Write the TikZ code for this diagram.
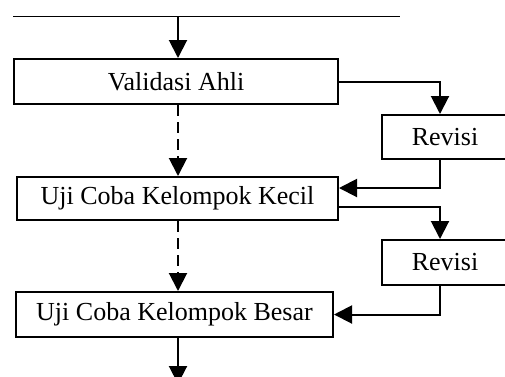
\documentclass[tikz,border=0pt]{standalone}
\usepackage{fontspec}
\setmainfont{Liberation Serif}
\usetikzlibrary{arrows.meta,calc}
\begin{document}
\begin{tikzpicture}[x=1pt,y=-1pt,
  stepbox/.style={draw,line width=2pt,inner sep=0pt,
    font=\fontsize{26}{30}\selectfont},
  flow/.style={line width=2pt,-{Triangle[length=18pt,width=18pt]}},
  weak/.style={flow,dash pattern=on 11pt off 6pt}]
\useasboundingbox (0,0) rectangle (505,376);

% top rule and entry point
\coordinate (topL) at (13,16);
\coordinate (topR) at (400,16);
\coordinate (topM) at (178,16);
\draw[line width=1pt] (topL) -- (topR);

% main stages
\node[stepbox,minimum width=324pt,minimum height=45pt] (va) at (176,81.5) {Validasi Ahli};
\node[stepbox,minimum width=321pt,minimum height=43pt] (kk) at (177.5,198.5) {Uji Coba Kelompok Kecil};
\node[stepbox,minimum width=317pt,minimum height=45pt] (kb) at (174.5,314.5) {Uji Coba Kelompok Besar};

% revision boxes
\node[stepbox,minimum width=126pt,minimum height=44pt] (r1) at (445,137) {Revisi};
\node[stepbox,minimum width=126pt,minimum height=45pt] (r2) at (445,262.5) {Revisi};

\coordinate (out) at (178,384);

% main flow
\draw[flow] (topM) -- (topM |- va.north);
\draw[weak] (topM |- va.south) -- (topM |- kk.north);
\draw[weak] (topM |- kk.south) -- (topM |- kb.north);
\draw[flow] (topM |- kb.south) -- (out);

% revision loops
\draw[flow] (va.east) -| ([xshift=-5pt]r1.north);
\draw[flow] ([xshift=-5pt]r1.south) |- ([yshift=10.5pt]kk.east);
\draw[flow] ([yshift=-8.5pt]kk.east) -| ([xshift=-5pt]r2.north);
\draw[flow] ([xshift=-5pt]r2.south) |- (kb.east);
\end{tikzpicture}
\end{document}
